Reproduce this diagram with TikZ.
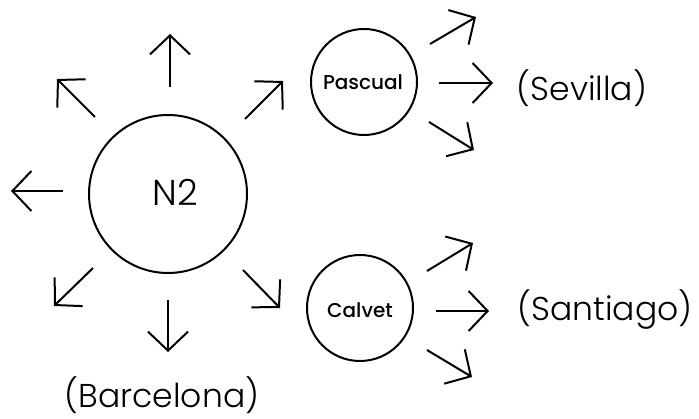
\documentclass[tikz,border=0pt]{standalone}
\usepackage{fontspec}
\setmainfont{Poppins}[UprightFont=* Light,BoldFont=* Medium]
\usetikzlibrary{arrows.meta}
\begin{document}
\begin{tikzpicture}[x=1pt,y=-1pt,
  ring/.style={draw,circle,line width=2pt,inner sep=0pt},
  ray/.style={line width=2pt,-{Straight Barb[length=19pt,width=40pt,line width=2pt]}},
  lbl/.style={inner sep=0pt,font=\fontsize{33}{33}\selectfont},
  small/.style={inner sep=0pt,font=\bfseries\fontsize{20}{20}\selectfont}
]
\useasboundingbox (0,0) rectangle (699,419);
% circles
\node[ring,minimum size=158pt] (n2) at (168,194) {};
\node[ring,minimum size=106pt] (pas) at (364,82) {};
\node[ring,minimum size=106pt] (cal) at (360,308) {};
\node[inner sep=0pt,font=\fontsize{36}{36}\selectfont] (n2t) at (175,192) {N2};
\node[small] (pt) at (363,82) {Pascual};
\node[small] (ct) at (360,310) {Calvet};
% labels
\node[lbl] (sev) at (582,88) {(Sevilla)};
\node[lbl] (san) at (605,310) {(Santiago)};
\node[lbl] (bar) at (162,395) {(Barcelona)};
% arrow coordinates around N2
\coordinate (u0) at (170,87);  \coordinate (u1) at (170,34);
\coordinate (ul0) at (95,117); \coordinate (ul1) at (57,79);
\coordinate (ur0) at (245,119);\coordinate (ur1) at (283,81);
\coordinate (l0) at (63,191);  \coordinate (l1) at (11,191);
\coordinate (dl0) at (93,268); \coordinate (dl1) at (54,306);
\coordinate (d0) at (168,300); \coordinate (d1) at (168,352);
\coordinate (dr0) at (243,270);\coordinate (dr1) at (280,308);
% Pascual arrows
\coordinate (pa0) at (430,44); \coordinate (pa1) at (476,17);
\coordinate (pb0) at (439,83); \coordinate (pb1) at (493,83);
\coordinate (pc0) at (429,122);\coordinate (pc1) at (474,150);
% Calvet arrows
\coordinate (ca0) at (427,271);\coordinate (ca1) at (473,243);
\coordinate (cb0) at (436,311);\coordinate (cb1) at (489,311);
\coordinate (cc0) at (427,350);\coordinate (cc1) at (472,377);
\foreach \a in {u,ul,ur,l,dl,d,dr,pa,pb,pc,ca,cb,cc}
  \draw[ray] (\a0) -- (\a1);
\end{tikzpicture}
\end{document}
